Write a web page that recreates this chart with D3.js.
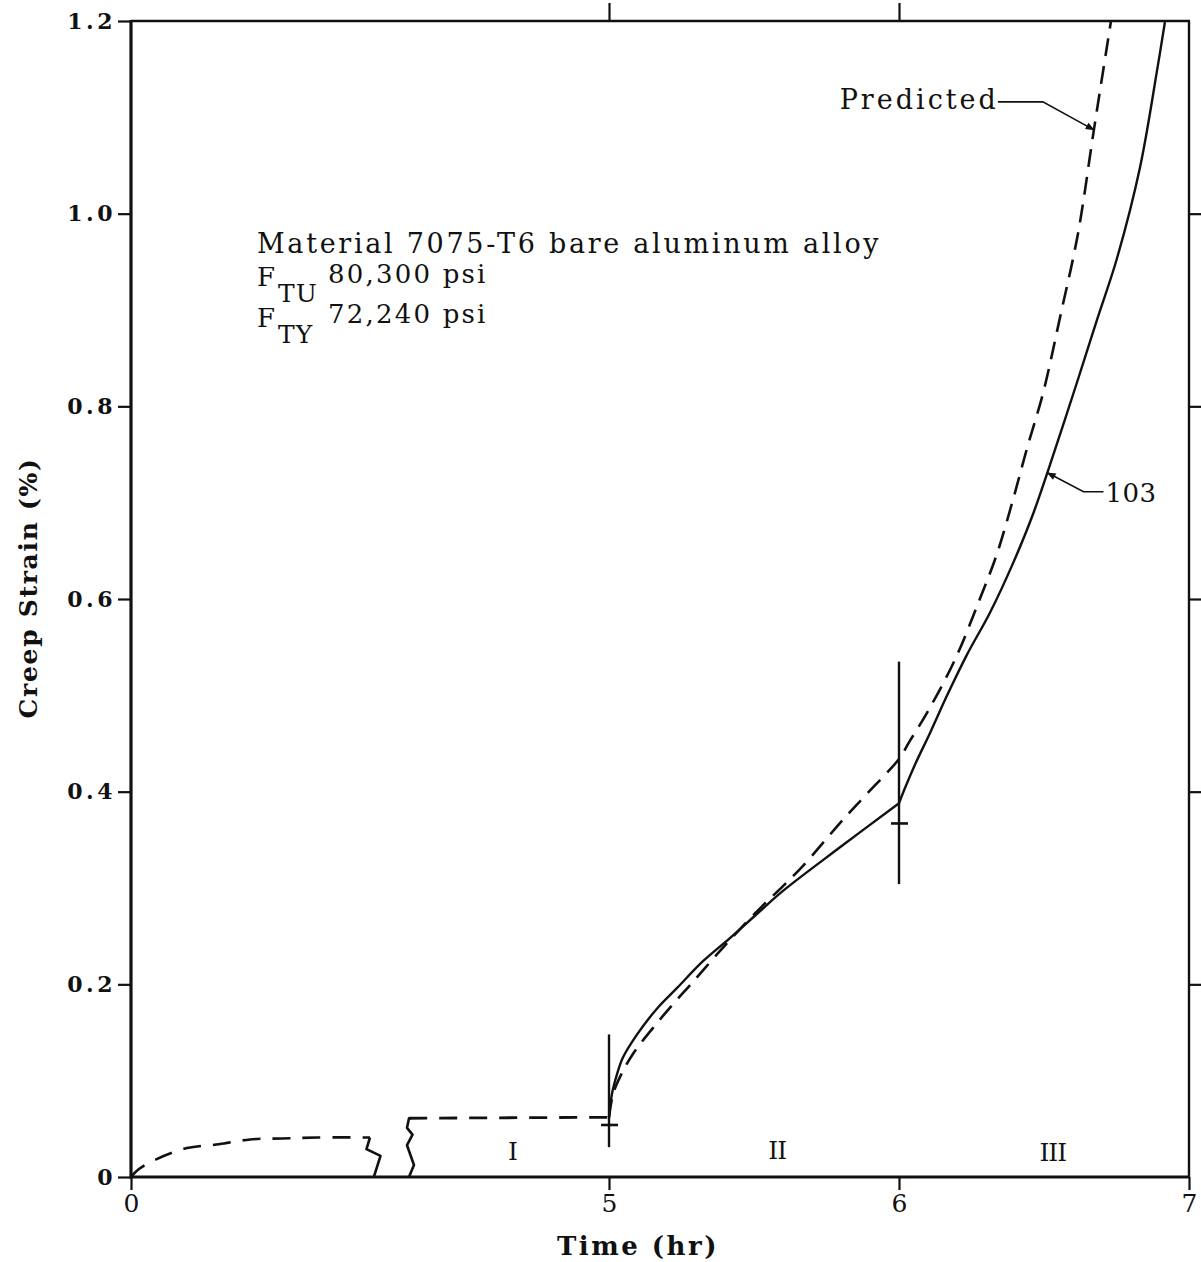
<!DOCTYPE html>
<html>
<head>
<meta charset="utf-8">
<script src="https://cdn.jsdelivr.net/npm/d3@7"></script>
<style>
  html, body { margin: 0; padding: 0; background: #fff; }
  svg { display: block; }
  text { fill: #111; }
</style>
</head>
<body>
<svg id="chart" width="1201" height="1262"></svg>
<script>
// Creep strain of 7075-T6 bare aluminium alloy: specimen 103 vs. prediction.

// Time axis is broken between ~2.5 and ~2.9 hr; ticks shown at these times
const timeTicks = [0, 5, 6, 7];
const strainTicks = [0, 0.2, 0.4, 0.6, 0.8, 1.0, 1.2];

// Predicted curve, stage I (before the axis break)
const earlyTime   = [0, 0.08, 0.257, 0.586, 0.92, 1.245, 1.58, 1.95, 2.5];
const earlyStrain = [0, 0.008, 0.018, 0.030, 0.034, 0.039, 0.040, 0.041, 0.041];

// Predicted curve, plateau after the break up to the load increase at 5 hr
const plateauTime   = [2.91, 5.0];
const plateauStrain = [0.061, 0.062];

// Axis-break zigzags (drawn in data units)
const breakLeftTime    = [2.5, 2.463, 2.61, 2.54];
const breakLeftStrain  = [0.041, 0.029, 0.022, 0.0];
const breakRightTime   = [2.908, 2.96, 2.887, 2.945, 2.887, 2.908, 2.93];
const breakRightStrain = [0.0, 0.0125, 0.033, 0.044, 0.051, 0.061, 0.061];

// Predicted curve, stages II and III
const predTime   = [5.0, 5.014, 5.038, 5.083, 5.166, 5.234, 5.279, 5.372, 5.441, 5.531, 5.600, 5.669, 5.807, 5.890, 6.0, 6.038, 6.097, 6.193, 6.280, 6.338, 6.393, 6.441, 6.497, 6.555, 6.617, 6.672, 6.731];
const predStrain = [0.062, 0.086, 0.104, 0.128, 0.160, 0.184, 0.199, 0.231, 0.254, 0.282, 0.302, 0.323, 0.371, 0.398, 0.434, 0.453, 0.482, 0.537, 0.601, 0.647, 0.703, 0.756, 0.814, 0.892, 0.979, 1.087, 1.2];

// Specimen 103, stage II (5 - 6 hr)
const testIITime   = [5.0, 5.010, 5.028, 5.048, 5.097, 5.166, 5.234, 5.324, 5.417, 5.510, 5.600, 5.8, 6.0];
const testIIStrain = [0.062, 0.086, 0.107, 0.124, 0.148, 0.175, 0.196, 0.224, 0.248, 0.273, 0.297, 0.343, 0.388];

// Specimen 103, stage III (after 6 hr)
const testIIITime   = [6.0, 6.021, 6.055, 6.107, 6.166, 6.234, 6.314, 6.393, 6.462, 6.538, 6.614, 6.683, 6.752, 6.831, 6.890, 6.917];
const testIIIStrain = [0.388, 0.404, 0.428, 0.461, 0.500, 0.542, 0.586, 0.637, 0.688, 0.755, 0.825, 0.890, 0.954, 1.048, 1.149, 1.199];

// Load-change markers: vertical bar and cross-tick at each stage boundary
const markerTime  = [5, 6];
const markerLow   = [0.031, 0.304];
const markerHigh  = [0.148, 0.535];
const markerCross = [0.054, 0.367];

// Stage labels
const stageNames  = ["I", "II", "III"];
const stageTime   = [3.99, 5.58, 6.53];
const stageStrain = [0.027, 0.028, 0.026];

// Callout targets
const calloutText   = ["Predicted", "103"];
const calloutTime   = [6.672, 6.512];
const calloutStrain = [1.087, 0.731];

const svg = d3.select("#chart");
svg.append("rect").attr("width", 1201).attr("height", 1262).attr("fill", "#fff");

// Piecewise-linear time scale compresses the 0-5 hr span
const x = d3.scaleLinear().domain(timeTicks).range([131, 609, 899, 1189]);
const y = d3.scaleLinear().domain([0, 1.2]).range([1177, 21]);

const serif = "'DejaVu Serif', 'Liberation Serif', serif";
const ink = "#111";

svg.append("defs").append("marker")
  .attr("id", "arrow").attr("viewBox", "0 0 10 10")
  .attr("refX", 9).attr("refY", 5)
  .attr("markerWidth", 13).attr("markerHeight", 9)
  .attr("markerUnits", "userSpaceOnUse")
  .attr("orient", "auto")
  .append("path").attr("d", "M0,1 L10,5 L0,9 Z").attr("fill", ink);

// Axes
const gL = svg.append("g").attr("transform", `translate(${x(0)},0)`)
  .call(d3.axisLeft(y).tickValues(strainTicks).tickSize(13).tickPadding(2)
    .tickFormat(d => d === 0 ? "0" : d.toFixed(1)));
const gB = svg.append("g").attr("transform", `translate(0,${y(0)})`)
  .call(d3.axisBottom(x).tickValues(timeTicks).tickSize(13).tickPadding(4).tickFormat(d3.format("d")));
const gT = svg.append("g").attr("transform", `translate(0,${y(1.2)})`)
  .call(d3.axisTop(x).tickValues([5, 6]).tickSize(18).tickFormat(""));
const gR = svg.append("g").attr("transform", `translate(${x(7)},0)`)
  .call(d3.axisRight(y).tickValues([0.2, 0.4, 0.6, 0.8, 1.0]).tickSize(12).tickFormat(""));

[gL, gB, gT, gR].forEach(g => {
  g.select(".domain").remove();
  g.selectAll(".tick line").attr("stroke", ink).attr("stroke-width", 2.2);
});
gL.selectAll(".tick text")
  .attr("font-family", serif).attr("font-weight", "bold")
  .attr("font-size", 22).attr("letter-spacing", 3.5).attr("fill", ink);
gB.selectAll(".tick text")
  .attr("font-family", serif).attr("font-size", 25).attr("fill", ink);

// Frame
const frame = svg.append("g").attr("stroke", ink).attr("fill", "none");
frame.append("line").attr("x1", x(0)).attr("x2", x(0)).attr("y1", y(1.2) - 1).attr("y2", y(0) + 1.5).attr("stroke-width", 3.2);
frame.append("line").attr("x1", x(0)).attr("x2", x(7) + 1).attr("y1", y(0)).attr("y2", y(0)).attr("stroke-width", 3.2);
frame.append("line").attr("x1", x(0)).attr("x2", x(7) + 1).attr("y1", y(1.2)).attr("y2", y(1.2)).attr("stroke-width", 2.4);
frame.append("line").attr("x1", x(7)).attr("x2", x(7)).attr("y1", y(1.2)).attr("y2", y(0)).attr("stroke-width", 2.4);

// Axis titles
svg.append("text").attr("x", 638).attr("y", 1255).attr("text-anchor", "middle")
  .attr("font-family", serif).attr("font-weight", "bold").attr("font-size", 26)
  .attr("letter-spacing", 2.5).text("Time (hr)");
svg.append("text").attr("transform", "translate(37,588) rotate(-90)").attr("text-anchor", "middle")
  .attr("font-family", serif).attr("font-weight", "bold").attr("font-size", 25)
  .attr("letter-spacing", 1.7).text("Creep Strain (%)");

// Curves
const zip = (ts, vs) => ts.map((t, i) => [t, vs[i]]);
const smooth = d3.line().x(d => x(d[0])).y(d => y(d[1])).curve(d3.curveCatmullRom.alpha(0.5));
const straight = d3.line().x(d => x(d[0])).y(d => y(d[1]));
const curves = svg.append("g").attr("fill", "none").attr("stroke", ink)
  .attr("stroke-linejoin", "round");

const dash = "18,12";
curves.append("path").attr("d", smooth(zip(earlyTime, earlyStrain)))
  .attr("stroke-width", 2.6).attr("stroke-dasharray", dash);
curves.append("path").attr("d", straight(zip(plateauTime, plateauStrain)))
  .attr("stroke-width", 2.8).attr("stroke-dasharray", dash);
curves.append("path").attr("d", straight(zip(breakLeftTime, breakLeftStrain))).attr("stroke-width", 2.6);
curves.append("path").attr("d", straight(zip(breakRightTime, breakRightStrain))).attr("stroke-width", 2.6);
curves.append("path").attr("d", smooth(zip(predTime, predStrain)))
  .attr("stroke-width", 2.6).attr("stroke-dasharray", "18,10");
curves.append("path").attr("d", smooth(zip(testIITime, testIIStrain))).attr("stroke-width", 2.4);
curves.append("path").attr("d", smooth(zip(testIIITime, testIIIStrain))).attr("stroke-width", 2.4);

// Stage boundary markers
const mk = svg.append("g").attr("stroke", ink);
markerTime.forEach((t, i) => {
  mk.append("line").attr("x1", x(t)).attr("x2", x(t))
    .attr("y1", y(markerLow[i])).attr("y2", y(markerHigh[i])).attr("stroke-width", 2.4);
  mk.append("line").attr("x1", x(t) - 8).attr("x2", x(t) + 9)
    .attr("y1", y(markerCross[i])).attr("y2", y(markerCross[i])).attr("stroke-width", 2.6);
});

// Stage labels
stageNames.forEach((s, i) => {
  svg.append("text").attr("x", x(stageTime[i])).attr("y", y(stageStrain[i]) + 9)
    .attr("text-anchor", "middle").attr("font-family", serif).attr("font-size", 25)
    .attr("letter-spacing", -1).text(s);
});

// Callouts
const ann = svg.append("g").attr("fill", "none").attr("stroke", ink).attr("stroke-width", 1.6);
{
  const tx = x(calloutTime[0]), ty = y(calloutStrain[0]);
  ann.append("path").attr("d", `M${tx - 96},${ty - 28} L${tx - 51},${ty - 28} L${tx},${ty}`)
    .attr("marker-end", "url(#arrow)");
  svg.append("text").attr("x", tx - 95).attr("y", ty - 21).attr("text-anchor", "end")
    .attr("font-family", serif).attr("font-size", 27).attr("letter-spacing", 3).text(calloutText[0]);
}
{
  const tx = x(calloutTime[1]), ty = y(calloutStrain[1]);
  ann.append("path").attr("d", `M${tx + 56},${ty + 19} L${tx + 36},${ty + 19} L${tx},${ty}`)
    .attr("marker-end", "url(#arrow)");
  svg.append("text").attr("x", tx + 58).attr("y", ty + 29)
    .attr("font-family", serif).attr("font-size", 26).attr("letter-spacing", 0.5).text(calloutText[1]);
}

// Material note
const note = svg.append("g").attr("font-family", serif).attr("font-size", 26).attr("letter-spacing", 2.2);
note.append("text").attr("x", 257).attr("y", 253).attr("font-size", 27).attr("letter-spacing", 2.7)
  .text("Material 7075-T6 bare aluminum alloy");
note.append("text").attr("x", 257).attr("y", 286).text("F");
note.append("text").attr("x", 278).attr("y", 302).attr("font-size", 25).attr("letter-spacing", 1).text("TU");
note.append("text").attr("x", 328).attr("y", 283).text("80,300 psi");
note.append("text").attr("x", 257).attr("y", 327).text("F");
note.append("text").attr("x", 278).attr("y", 343).attr("font-size", 25).attr("letter-spacing", 1).text("TY");
note.append("text").attr("x", 328).attr("y", 323).text("72,240 psi");
</script>
</body>
</html>
